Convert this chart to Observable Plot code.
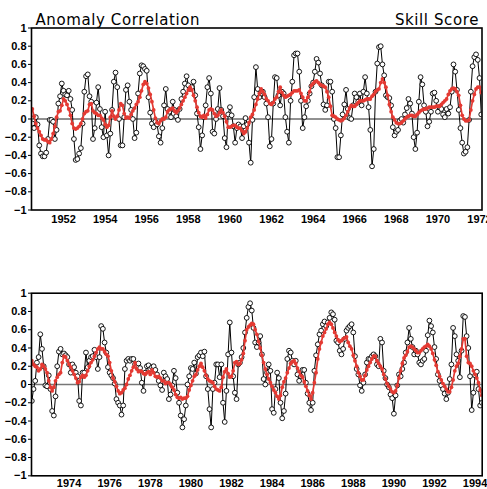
<!DOCTYPE html>
<html>
<head>
<meta charset="utf-8">
<script src="https://cdn.jsdelivr.net/npm/d3@7"></script>
<script src="https://cdn.jsdelivr.net/npm/@observablehq/plot@0.6"></script>
<style>
  html, body { margin: 0; padding: 0; background: #fff; }
  #chart { width: 487px; height: 489px; position: relative; overflow: hidden; }
  #chart svg { display: block; overflow: visible; }
</style>
</head>
<body>
<div id="chart"></div>
<script>
// ---------- data ----------
const titleLeft = "Anomaly Correlation";
const titleRight = "Skill Score";

// top panel: monthly, starting Jul 1950
const topStart = 1950.5;
const topBlack = [
-0.05,-0.1,0.02,-0.06,-0.29,-0.38,-0.41,-0.41,-0.37,-0.22,
-0.01,-0.01,-0.03,-0.22,-0.12,0.17,0.25,0.39,0.31,0.27,
0.26,0.31,0.22,0.1,-0.22,-0.45,-0.44,-0.38,-0.32,-0.05,
0.3,0.47,0.49,0.25,0.19,-0.22,-0.1,0.18,0.35,0.11,
-0.09,-0.2,0.08,-0.18,-0.4,-0.16,0.1,0.41,0.51,0.35,
0,-0.29,-0.29,0.02,0.32,0.37,0.19,0.1,0,-0.21,
-0.15,0.28,0.5,0.59,0.58,0.55,0.53,0.24,0.07,-0.05,
-0.09,-0.03,-0.06,-0.19,-0.26,-0.1,0.15,0.33,0.11,0.08,
0.02,0.19,0.1,0.03,-0.01,0.11,0.22,0.3,0.39,0.47,
0.37,0.33,0.35,0.41,0.26,0.06,-0.09,-0.33,-0.18,0.02,
0.15,0.35,0.45,0.28,-0.14,-0.16,0,0.11,0.34,0.1,
0.03,-0.21,-0.31,0.05,0.13,0.04,-0.08,-0.26,-0.1,-0.06,
-0.08,-0.21,-0.08,0.01,-0.06,-0.26,-0.48,-0.01,0.24,0.57,
0.33,0.24,0.28,0.3,0.24,0.17,0.02,-0.3,-0.22,0.17,
0.46,0.45,0.26,0.15,0.3,0.28,0.02,-0.14,-0.26,0.2,
0.41,0.7,0.72,0.72,0.52,0.2,-0.1,0.02,0.14,0.2,
0.28,0.36,0.4,0.52,0.66,0.62,0.5,0.37,0.16,0.1,
0.15,0.41,0.41,0.3,0,-0.1,-0.42,-0.42,-0.18,0.05,
0.16,0.32,0.11,0.01,0,0.15,0.28,0.24,0.19,0.28,
0.15,0.3,0.46,0.28,0.13,-0.12,-0.52,-0.33,0.3,0.61,
0.79,0.8,0.6,0.48,0.26,0.24,0.23,0.15,-0.09,-0.18,
-0.14,-0.12,-0.02,0,-0.04,0.05,0.12,0.22,0.17,0.06,
-0.2,-0.33,-0.15,0.19,0.46,0.38,0.15,0.08,-0.08,-0.03,
0.08,0.28,0.29,0.2,0.08,0.13,0.11,0.05,0.02,0.11,
0.06,0.13,0.3,0.6,0.52,0.32,0.1,-0.1,-0.26,-0.38,
-0.36,-0.31,-0.01,0.3,0.58,0.68,0.71,0.65,0.45,0.05
];
const topRed = [
0.11,0.03,-0.05,-0.1,-0.14,-0.18,-0.22,-0.23,-0.23,-0.25,
-0.26,-0.22,-0.16,-0.08,0.02,0.08,0.09,0.15,0.22,0.2,
0.16,0.11,0.04,-0.05,-0.1,-0.11,-0.1,-0.08,-0.05,0,
0.06,0.08,0.09,0.16,0.17,0.09,0.07,0.06,0.04,0.04,
0.01,-0.01,-0.06,-0.09,-0.07,0.02,0.09,0.03,0,0.03,
0.1,0.17,0.15,0.06,0.01,0.02,0.01,0.05,0.09,0.12,
0.16,0.19,0.24,0.31,0.38,0.41,0.39,0.34,0.27,0.19,
0.1,0.01,-0.04,-0.05,-0.02,0,0,0.02,0.08,0.1,
0.11,0.12,0.09,0.07,0.09,0.12,0.16,0.2,0.24,0.28,
0.32,0.35,0.32,0.26,0.2,0.13,0.07,0.03,0.02,0.04,
0.01,0.05,0.1,0.11,0.1,0.06,0.03,0.04,0.07,0.1,
0.07,0.03,-0.03,-0.09,-0.09,-0.08,-0.07,-0.07,-0.09,-0.1,
-0.1,-0.13,-0.16,-0.14,-0.1,-0.04,0.02,0.05,0.1,0.16,
0.22,0.28,0.33,0.3,0.27,0.22,0.2,0.17,0.16,0.18,
0.22,0.24,0.3,0.35,0.29,0.26,0.24,0.25,0.26,0.27,
0.29,0.31,0.31,0.31,0.32,0.28,0.24,0.2,0.2,0.24,
0.3,0.37,0.39,0.41,0.42,0.4,0.38,0.37,0.36,0.35,
0.3,0.24,0.14,0.04,0.03,0.02,0,-0.01,-0.02,-0.01,
0.01,0.04,0.08,0.12,0.15,0.14,0.14,0.16,0.18,0.2,
0.2,0.2,0.21,0.22,0.22,0.22,0.25,0.27,0.3,0.32,
0.33,0.4,0.44,0.4,0.35,0.26,0.16,0.08,0.02,-0.01,
-0.04,-0.05,-0.05,-0.04,-0.02,0,0.02,0.03,0.04,0.04,
0.03,0.03,0.05,0.07,0.09,0.1,0.11,0.11,0.12,0.13,
0.13,0.13,0.13,0.14,0.14,0.14,0.16,0.18,0.2,0.22,
0.27,0.31,0.33,0.34,0.33,0.3,0.26,0.15,0.04,0,
-0.02,-0.02,-0.01,0.1,0.2,0.27,0.33,0.35,0.35,0.29
];

// bottom panel: monthly, starting Mar 1972
const botStart = 1972 + 2 / 12;
const botBlack = [
-0.18,-0.05,0.04,0.24,0.3,0.55,0.39,0.2,-0.01,-0.02,
0.1,-0.05,-0.29,-0.34,-0.13,0.2,0.36,0.39,0.33,0.34,
0.32,0.3,0.22,0.13,0.22,0.19,0.13,0.09,-0.18,-0.23,
0.13,0.13,0.35,0.19,0.26,0.3,0.31,0.38,0.3,0.17,
0.3,0.64,0.61,0.46,0.35,0.19,0.13,0.1,0.07,0.01,
-0.16,-0.2,-0.23,-0.33,-0.23,0.17,0.26,0.28,0.26,0.28,
0.28,0.22,0.2,0.23,0.18,0.02,-0.07,0.13,0.2,0.21,
0.17,0.19,0.2,0.16,0.11,0.04,-0.01,-0.06,0.13,0.09,
0.06,-0.16,-0.11,-0.01,0.15,0.07,-0.09,-0.2,-0.34,-0.47,
-0.38,-0.23,0,0.09,0.18,0.17,0.24,0.12,0.3,0.32,
0.35,0.31,0.36,0.09,-0.05,-0.27,-0.47,-0.05,0.02,0.22,
0.22,0.08,0.22,-0.2,-0.41,-0.07,0.33,0.68,0.35,0.09,
-0.09,-0.16,0.22,0.24,0.3,0.4,0.57,0.73,0.85,0.89,
0.81,0.62,0.46,0.41,0.46,0.53,0.33,0.06,0,0.13,
0.22,0.15,-0.27,-0.31,-0.05,0.13,0.07,-0.2,-0.37,-0.29,
-0.1,0.28,0.37,0.35,0.26,0.22,0.26,0.11,0.04,0.09,
0.16,0.16,0.02,-0.1,-0.2,-0.28,-0.2,0.15,0.32,0.44,
0.55,0.59,0.66,0.69,0.64,0.68,0.73,0.79,0.77,0.71,
0.48,0.46,0.37,0.33,0.39,0.5,0.59,0.62,0.64,0.66,
0.57,0.31,0.17,0.11,-0.01,-0.07,0.02,0.11,0.24,0.28,
0.28,0.31,0.33,0.31,0.22,0.2,0.5,0.46,0.15,0.07,
0,-0.03,-0.11,-0.15,-0.32,-0.12,-0.01,0.11,0.09,0.17,
0.24,0.35,0.46,0.62,0.5,0.41,0.33,0.37,0.33,0.24,
0.22,0.26,0.28,0.37,0.54,0.7,0.64,0.57,0.41,0.28,
0.11,0.04,-0.01,-0.05,-0.1,-0.16,-0.09,0.06,0.22,0.62,
0.53,0.33,0.26,0.08,0.37,0.75,0.74,0.53,0.4,0.09,
-0.28,-0.09,0.1,0.14,-0.05,-0.23,-0.2
];
const botRed = [
0.26,0.22,0.2,0.19,0.15,0.17,0.22,0.2,0.17,0.13,
0.04,-0.03,-0.07,-0.03,0.04,0.08,0.11,0.13,0.24,0.31,
0.3,0.26,0.22,0.19,0.15,0.11,0.07,0.02,0.03,0.08,
0.1,0.08,0.1,0.15,0.2,0.24,0.27,0.31,0.35,0.39,
0.41,0.39,0.39,0.36,0.33,0.31,0.24,0.15,0.07,0.03,
-0.02,-0.07,-0.1,-0.09,-0.06,-0.04,0,0.06,0.1,0.15,
0.19,0.24,0.17,0.14,0.15,0.14,0.12,0.11,0.13,0.14,
0.11,0.16,0.13,0.09,0.08,0.09,0.07,0.04,0.04,0.01,
0.02,0.02,0,-0.03,-0.06,-0.11,-0.14,-0.15,-0.14,-0.16,
-0.15,-0.15,-0.13,-0.06,-0.01,0.04,0.09,0.11,0.16,0.2,
0.23,0.19,0.15,0.1,0.06,0.04,0.03,0.02,-0.02,-0.05,
-0.06,-0.07,-0.03,0.08,0.14,0.17,0.12,0.08,0.09,0.15,
0.24,0.25,0.22,0.23,0.27,0.34,0.48,0.6,0.63,0.65,
0.67,0.66,0.6,0.55,0.47,0.4,0.32,0.24,0.17,0.11,
0.06,0.02,-0.02,-0.06,-0.09,-0.13,-0.16,-0.12,-0.03,0.03,
0.07,0.13,0.18,0.23,0.25,0.26,0.23,0.18,0.14,0.1,
0.08,0.03,-0.02,-0.07,-0.12,-0.16,-0.09,0.02,0.13,0.28,
0.39,0.46,0.53,0.57,0.61,0.66,0.68,0.66,0.62,0.57,
0.53,0.49,0.47,0.48,0.5,0.51,0.52,0.46,0.42,0.39,
0.32,0.26,0.2,0.13,0.09,0.05,0.05,0.1,0.16,0.2,
0.24,0.28,0.31,0.31,0.26,0.23,0.2,0.17,0.11,0.06,
0.01,-0.02,-0.05,-0.08,-0.09,-0.07,-0.01,0.07,0.15,0.23,
0.29,0.32,0.36,0.41,0.42,0.41,0.39,0.37,0.35,0.35,
0.37,0.39,0.41,0.42,0.44,0.42,0.39,0.34,0.27,0.21,
0.14,0.09,0.05,0.01,-0.02,-0.05,-0.08,-0.08,-0.03,0.05,
0.15,0.2,0.23,0.31,0.39,0.5,0.5,0.31,0.24,0.23,
0.2,0.15,0.11,0.07,0.02,-0.06,-0.12
];

const yTicks = [-1,-0.8,-0.6,-0.4,-0.2,0,0.2,0.4,0.6,0.8,1];
const xTicksTop = [1952,1954,1956,1958,1960,1962,1964,1966,1968,1970,1972];
const xTicksBot = [1974,1976,1978,1980,1982,1984,1986,1988,1990,1992,1994];

// ---------- build ----------
const RED = "#e43a33";
const topData = topBlack.map((v, i) => ({t: topStart + i / 12, b: v, r: topRed[i]}));
const botData = botBlack.map((v, i) => ({t: botStart + i / 12, b: v, r: botRed[i]}));

const yFmt = d => d === 0 ? "0" : (d < 0 ? "\u2212" : "") + String(Math.abs(d));

function panel(data, xDomain, xTicks, opts) {
  return Plot.plot({
    width: 487,
    height: opts.height,
    marginLeft: 31,
    marginRight: opts.marginRight,
    marginTop: opts.marginTop,
    marginBottom: opts.marginBottom,
    style: {fontFamily: "'Liberation Sans', Arial, sans-serif", fontSize: "11px", fontWeight: "bold", color: "#000", background: "#fff", overflow: "visible"},
    x: {domain: xDomain, ticks: xTicks, tickFormat: d => String(d), tickSize: 0, tickPadding: opts.xPad, label: null},
    y: {domain: [-1, 1], ticks: yTicks, tickFormat: yFmt, tickSize: 3, tickPadding: 2, label: null},
    marks: [
      Plot.ruleY([0], {stroke: opts.zeroColor, strokeWidth: opts.zeroWidth}),
      Plot.line(data, {x: "t", y: "b", stroke: "#000", strokeWidth: 1, clip: true}),
      Plot.dot(data, {x: "t", y: "b", r: 2.4, fill: "#fff", stroke: "#000", strokeWidth: 0.9, clip: true}),
      Plot.line(data, {x: "t", y: "r", stroke: RED, strokeWidth: 1.7, clip: true}),
      Plot.dot(data, {x: "t", y: "r", r: 1.9, fill: RED, stroke: "none", clip: true}),
      Plot.frame({stroke: "#000", strokeWidth: 1.6}),
      ...(opts.titles ? [
        Plot.text([titleLeft], {frameAnchor: "top-left", textAnchor: "start", lineAnchor: "bottom", dx: 4, dy: -3, fontSize: 15, fontWeight: "normal", fontFamily: "'DejaVu Sans', sans-serif", fill: "#000"}),
        Plot.text([titleRight], {frameAnchor: "top-right", textAnchor: "end", lineAnchor: "bottom", dx: -3, dy: -3, fontSize: 15, fontWeight: "normal", fontFamily: "'DejaVu Sans', sans-serif", fill: "#000"})
      ] : [])
    ]
  });
}

const chart = document.getElementById("chart");
const topSvg = panel(topData, [1950.46, 1972.12], xTicksTop,
  {height: 245, marginTop: 27.5, marginBottom: 35.5, marginRight: 5.5, zeroColor: "#222", zeroWidth: 1, titles: true, xPad: 5});
chart.append(topSvg);
chart.append(panel(botData, [1972.15, 1994.35], xTicksBot,
  {height: 244, marginTop: 47.7, marginBottom: 13.7, marginRight: 5.3, zeroColor: "#777", zeroWidth: 1.5, titles: false, xPad: 3}));

// widen the title lettering like the reference's stroke font
d3.select(topSvg).selectAll("text")
  .filter(function() { return this.textContent === titleLeft || this.textContent === titleRight; })
  .attr("letter-spacing", "0.6px");
</script>
</body>
</html>
